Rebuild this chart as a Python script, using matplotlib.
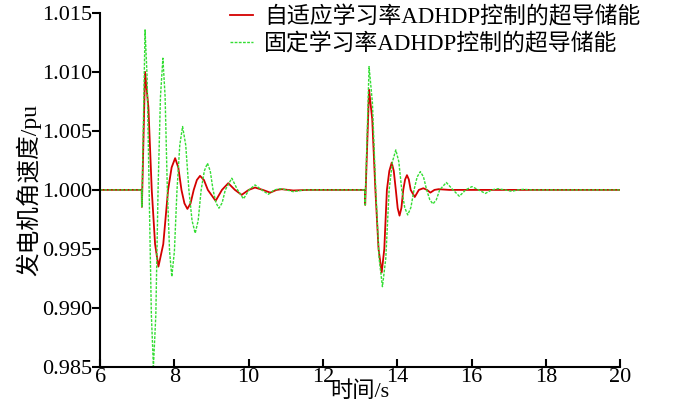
import matplotlib
matplotlib.use('Agg')
import matplotlib.pyplot as plt

plt.rcParams['font.family'] = ['Liberation Serif', 'Noto Sans CJK SC']

# adaptive learning rate ADHDP (red)
t_red = [6.0, 7.12, 7.125, 7.21, 7.30, 7.39, 7.48, 7.57, 7.70, 7.83, 7.925, 8.02,
         8.105, 8.19, 8.27, 8.35, 8.435, 8.52, 8.605, 8.69, 8.795,
         8.90, 9.11, 9.28, 9.45, 9.63, 9.81, 10.0, 10.17, 10.38, 10.58, 10.75,
         10.89, 11.2, 11.6, 13.13, 13.135, 13.24, 13.325, 13.41, 13.495, 13.58,
         13.65, 13.72, 13.785, 13.85, 13.905, 13.96, 14.01, 14.06, 14.11, 14.16,
         14.21, 14.26, 14.31, 14.36, 14.47, 14.58, 14.70, 14.80, 14.89,
         15.0, 15.11, 15.4, 20.0]
w_red = [1.0, 1.0, 0.99856, 1.0100, 1.0070, 1.0, 0.9954, 0.9935, 0.9954, 1.0,
         1.0019, 1.00269, 1.0019, 1.0, 0.99886, 0.99839, 0.99886, 1.0, 1.00084,
         1.00119, 1.00084,
         1.0, 0.99907, 1.0, 1.00057, 1.0, 0.99958, 1.0, 1.0002, 1.0,
         0.99977, 1.0, 1.00006, 0.99995, 1.0, 1.0, 0.99873, 1.0085, 1.0060, 1.0,
         0.9950, 0.9930, 0.9950, 1.0, 1.0016, 1.00231, 1.0016, 1.0, 0.99846,
         0.99782, 0.99846, 1.0, 1.00088, 1.00125, 1.00088, 1.0, 0.9994, 1.0,
         1.00014, 1.0, 0.99977, 1.0, 1.00006, 1.0, 1.0]

# fixed learning rate ADHDP (green)
t_grn = [6.0, 7.12, 7.125, 7.21, 7.265, 7.32, 7.38, 7.435, 7.50, 7.56, 7.625,
         7.69, 7.75, 7.81, 7.87, 7.93, 8.00, 8.07, 8.145, 8.22, 8.305,
         8.39, 8.475, 8.56, 8.64, 8.72, 8.805, 8.89, 8.965, 9.04, 9.12, 9.20,
         9.285, 9.37, 9.545, 9.70, 9.86, 10.01,
         10.17, 10.35, 10.53, 10.69, 10.85, 11.02, 11.2, 11.5, 13.13, 13.135,
         13.24, 13.33, 13.42, 13.51, 13.60, 13.69, 13.78, 13.87, 13.96, 14.04,
         14.12, 14.20, 14.28, 14.365, 14.45, 14.535, 14.62, 14.705, 14.79,
         14.875, 14.96, 15.05, 15.14, 15.32, 15.50, 15.67, 15.84, 16.01, 16.19,
         16.37, 16.54, 16.71, 16.9, 17.08, 17.25, 17.40, 17.6, 20.0]
w_grn = [1.0, 1.0, 0.99856, 1.01356, 1.0096, 1.0, 0.9894, 0.98503, 0.9894, 1.0,
         1.0079, 1.01116, 1.0079, 1.0, 0.9948, 0.99265, 0.9948, 1.0, 1.0038,
         1.00537, 1.0038, 1.0, 0.9974, 0.99633, 0.9974, 1.0, 1.0016, 1.00226,
         1.0016, 1.0, 0.9989, 0.99845, 0.9989, 1.0, 1.00099, 1.0,
         0.99924, 1.0, 1.00042, 1.0, 0.99963, 1.0, 1.0001, 1.0, 0.99985, 1.0,
         1.0, 0.99873, 1.01045, 1.0074, 1.0, 0.9942, 0.9918, 0.9942, 1.0, 1.0024,
         1.00339, 1.0024, 1.0, 0.9985, 0.99788, 0.9985, 1.0, 1.0011, 1.00155,
         1.0011, 1.0, 0.99916, 0.99881, 0.99916, 1.0, 1.00063, 1.0, 0.99946,
         1.0, 1.00028, 1.0, 0.9997, 1.0, 1.0001, 1.0, 0.99988, 1.0, 1.00005,
         1.0, 1.0]

xticks = [6, 8, 10, 12, 14, 16, 18, 20]
yticks = [0.985, 0.990, 0.995, 1.000, 1.005, 1.010, 1.015]

fig = plt.figure(figsize=(7, 4.16), dpi=100)
ax = fig.add_axes([0.143, 0.118, 0.743, 0.851])

ax.plot(t_red, w_red, color='#d40000', lw=1.3, label='自适应学习率ADHDP控制的超导储能')
ax.plot(t_grn, w_grn, color='#33dd33', lw=1.0, ls=(0, (2, 1)),
        label='固定学习率ADHDP控制的超导储能')

ax.set_xlim(6, 20)
ax.set_ylim(0.985, 1.015)
ax.set_xticks(xticks)
ax.set_yticks(yticks)
ax.set_yticklabels(['%.3f' % v for v in yticks])
ax.spines['top'].set_visible(False)
ax.spines['right'].set_visible(False)
ax.spines['left'].set_linewidth(1.5)
ax.spines['bottom'].set_linewidth(1.5)
ax.tick_params(axis='x', direction='in', length=6, width=1.5, labelsize=16, pad=1)
ax.tick_params(axis='y', direction='out', length=6, width=1.5, labelsize=16, pad=0)

ax.set_xlabel('时间/s', fontsize=16, labelpad=-4)
ax.set_ylabel('发电机角速度/pu', fontsize=17, labelpad=0)

fig.legend(loc='upper left', bbox_to_anchor=(0.299, 1.035), frameon=False,
           fontsize=16.5, handlelength=1.0, handletextpad=0.5, labelspacing=0.2)

fig.savefig('out.png', dpi=100)
